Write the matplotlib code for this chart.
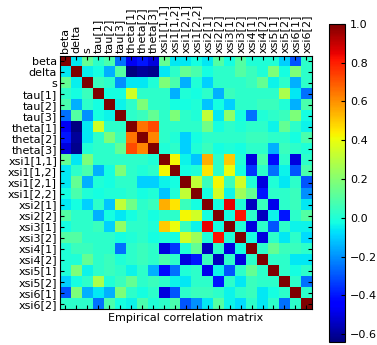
import numpy as np
import matplotlib
matplotlib.use("Agg")
import matplotlib.pyplot as plt

names = ["beta", "delta", "s", "tau[1]", "tau[2]", "tau[3]",
         "theta[1]", "theta[2]", "theta[3]",
         "xsi1[1,1]", "xsi1[1,2]", "xsi1[2,1]", "xsi1[2,2]",
         "xsi2[1]", "xsi2[2]", "xsi3[1]", "xsi3[2]",
         "xsi4[1]", "xsi4[2]", "xsi5[1]", "xsi5[2]", "xsi6[1]", "xsi6[2]"]

# upper triangle, row i holds correlations with columns i+1 .. end
upper = [
    [-0.06, 0.13, 0.02, 0.08, -0.25, -0.47, -0.40, -0.50, 0.13, -0.06, -0.06, -0.02, -0.06, 0.10, -0.02, 0.10, 0.00, 0.00, 0.00, -0.10, -0.30, 0.02],
    [-0.05, -0.02, -0.15, 0.10, -0.64, -0.60, -0.62, -0.06, 0.02, 0.13, 0.08, -0.02, 0.02, 0.02, 0.10, 0.05, 0.00, 0.18, -0.02, 0.18, 0.02],
    [0.05, 0.02, -0.20, -0.06, -0.06, 0.00, 0.18, 0.08, -0.15, 0.00, -0.10, 0.02, 0.02, 0.02, 0.05, 0.13, -0.04, 0.02, -0.15, 0.02],
    [-0.02, -0.02, 0.35, 0.02, 0.02, 0.02, -0.15, 0.00, -0.02, 0.02, -0.15, 0.05, 0.02, 0.02, 0.02, 0.02, 0.27, -0.06, -0.25],
    [-0.04, 0.02, 0.18, 0.02, 0.02, -0.02, -0.02, 0.00, -0.12, -0.02, -0.10, 0.02, 0.02, 0.05, 0.05, 0.00, -0.15, 0.08],
    [0.02, 0.05, 0.13, 0.02, 0.18, 0.02, 0.00, 0.32, -0.06, 0.22, -0.02, -0.25, 0.00, 0.02, 0.05, 0.18, -0.02],
    [0.65, 0.72, 0.02, 0.02, 0.02, 0.02, 0.16, -0.02, 0.02, 0.00, 0.02, 0.02, -0.04, 0.13, 0.02, -0.04],
    [0.62, 0.02, 0.00, -0.10, -0.02, 0.02, 0.02, 0.02, 0.02, 0.05, 0.05, 0.02, 0.02, -0.02, 0.08],
    [0.00, 0.02, -0.10, 0.00, 0.05, -0.02, 0.00, -0.02, 0.02, 0.02, -0.15, 0.05, 0.02, 0.00],
    [0.42, -0.04, -0.12, 0.55, 0.02, 0.50, 0.00, -0.50, 0.08, -0.42, 0.02, -0.50, 0.02],
    [-0.02, 0.00, 0.45, 0.02, 0.40, -0.02, -0.35, 0.02, -0.25, -0.04, -0.30, 0.08],
    [0.32, 0.05, 0.42, 0.05, 0.35, 0.00, -0.50, 0.00, -0.06, 0.02, -0.30],
    [-0.02, 0.35, -0.04, 0.25, 0.13, -0.40, 0.02, 0.02, 0.05, -0.20],
    [-0.02, 0.85, 0.00, -0.55, 0.05, -0.48, 0.02, 0.05, -0.06],
    [-0.02, 0.82, 0.02, -0.55, -0.04, -0.40, 0.02, 0.10],
    [0.00, -0.50, 0.02, -0.30, 0.02, -0.04, -0.04],
    [-0.02, -0.50, 0.02, -0.06, 0.02, -0.08],
    [0.02, 0.13, 0.05, 0.05, 0.02],
    [0.02, 0.02, -0.06, -0.06],
    [0.02, -0.02, 0.02],
    [0.02, -0.25],
    [0.02],
]

n = len(names)
corr = np.eye(n)
for i, row in enumerate(upper):
    for k, v in enumerate(row):
        corr[i, i + 1 + k] = v
        corr[i + 1 + k, i] = v

fig = plt.figure(figsize=(3.77, 3.45), dpi=100)
ax = fig.add_axes([0.159, 0.104, 0.668, 0.734])
cax = fig.add_axes([0.873, 0.009, 0.042, 0.922])

im = ax.imshow(corr, cmap="jet", interpolation="nearest",
               vmin=corr.min(), vmax=1.0, aspect="auto")

ax.set_xticks(range(n))
ax.set_yticks(range(n))
ax.set_xticklabels(names, rotation=90, fontsize=8)
ax.set_yticklabels(names, fontsize=8)
ax.xaxis.tick_top()
ax.tick_params(direction="in", length=3, top=True, bottom=True,
               left=True, right=True, labeltop=True, labelbottom=False, pad=2)
ax.set_xlabel("Empirical correlation matrix", fontsize=8, labelpad=3)
ax.xaxis.set_label_position("bottom")

cb = fig.colorbar(im, cax=cax)
cb.set_ticks(np.arange(-0.6, 1.01, 0.2))
cb.ax.tick_params(labelsize=8, direction="in", length=3)

fig.savefig("out.png", dpi=100)
